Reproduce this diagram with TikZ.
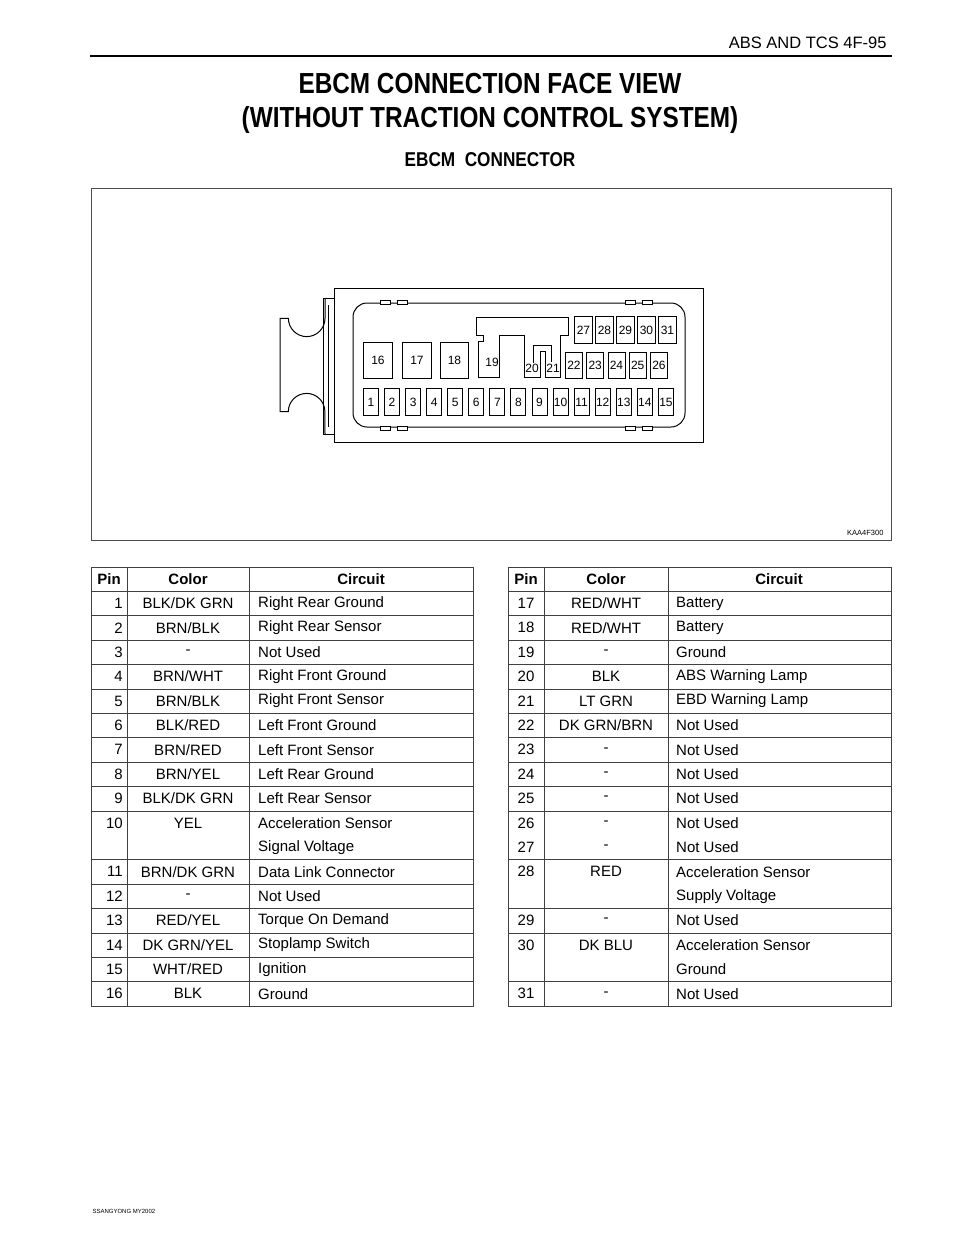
\documentclass[tikz,border=0pt]{standalone}
\usepackage{fontspec}
\setmainfont{Liberation Sans}
\begin{document}
\begin{tikzpicture}[x=1pt,y=-1pt,line join=miter,
  pin/.style={draw,line width=0.9pt,inner sep=0pt,anchor=north west,font=\fontsize{12}{12}\selectfont},
  cell/.style={font=\fontsize{15}{15}\selectfont,inner sep=0pt},
  grid/.style={draw=black!75,line width=0.8pt}]
\useasboundingbox (0,0) rectangle (960,1242);
% header
\node[anchor=base east,font=\fontsize{16.5}{16}\selectfont] (hdr) at (890,48) {ABS AND TCS 4F-95};
\draw[line width=2.5pt] (90,56) -- (892,56);
\node[font=\bfseries\fontsize{29}{29}\selectfont,xscale=0.84] (t1) at (490,84) {EBCM CONNECTION FACE VIEW};
\node[font=\bfseries\fontsize{29}{29}\selectfont,xscale=0.84] (t2) at (490,120) {(WITHOUT TRACTION CONTROL SYSTEM)};
\node[font=\bfseries\fontsize{20}{20}\selectfont,xscale=0.86] (t3) at (490,160) {EBCM\ \ CONNECTOR};
% figure frame
\draw[draw=black!70,line width=0.8pt] (91,188) rectangle (891,540);
\node[anchor=east,font=\fontsize{7.5}{8}\selectfont] (code) at (887,533) {KAA4F300};
% connector
\begin{scope}[line width=1pt]
\draw (334,288) rectangle (703,442);
\draw (323,298) rectangle (334,434);
\draw (328,305) -- (328,427);
\draw[rounded corners=14pt] (353,303) rectangle (685,427);
\draw (325,298) -- (325,318.3) arc[start angle=0,end angle=180,radius=18.3] -- (280,318.3) -- (280,411.7) -- (288.3,411.7) arc[start angle=180,end angle=360,radius=18.3] -- (325,434);
% notches
\foreach \xa in {380,625}{\draw[fill=white] (\xa,300) rectangle ++(10,4); \draw[fill=white] (\xa+17,300) rectangle ++(10,4);
 \draw[fill=white] (\xa,426) rectangle ++(10,4); \draw[fill=white] (\xa+17,426) rectangle ++(10,4);}
% 19/20/21 shape
\draw (476.7,317.3) -- (568.3,317.3) -- (568.3,335) -- (560.7,335) -- (560.7,377.7) -- (545,377.7) -- (545,351.7) -- (540.7,351.7) -- (540.7,377.7) -- (524,377.7) -- (524,335) -- (499.3,335) -- (499.3,377.7) -- (478.3,377.7) -- (478.3,341.7) -- (483,341.7) -- (483,335) -- (476.7,335) -- cycle;
\draw (533.3,363) -- (533.3,345) -- (551.7,345) -- (551.7,361.7);
\end{scope}
\node[font=\fontsize{12}{12}\selectfont] (p19) at (492,362) {19};
\node[font=\fontsize{12}{12}\selectfont] (p20) at (532,368) {20};
\node[font=\fontsize{12}{12}\selectfont] (p21) at (553,368) {21};
\node[pin,minimum width=29pt,minimum height=36pt] (p16) at (363,342) {16};
\node[pin,minimum width=29pt,minimum height=36pt] (p17) at (402,342) {17};
\node[pin,minimum width=28pt,minimum height=36pt] (p18) at (440,342) {18};
\foreach \i in {1,...,15}{
  \node[pin,minimum width=15pt,minimum height=27pt] (q\i) at ({363+21.07*(\i-1)},388) {\i};}
\foreach \i [count=\k from 0] in {22,...,26}{
  \node[pin,minimum width=17pt,minimum height=26pt] (q\i) at ({565+21.25*\k},352) {\i};}
\foreach \i [count=\k from 0] in {27,...,31}{
  \node[pin,minimum width=18pt,minimum height=27pt] (q\i) at ({574+21*\k},316) {\i};}
% tables
\def\rh{24.4}
% left
\draw[grid] (91,567) rectangle (473,{567+18*\rh});
\draw[grid] (127,567) -- (127,{567+18*\rh});
\draw[grid] (249,567) -- (249,{567+18*\rh});
\foreach \k in {1,...,10,12,13,14,15,16,17}{\draw[grid] (91,{567+\k*\rh}) -- (473,{567+\k*\rh});}
% right
\draw[grid] (508,567) rectangle (891,{567+18*\rh});
\draw[grid] (544,567) -- (544,{567+18*\rh});
\draw[grid] (668,567) -- (668,{567+18*\rh});
\foreach \k in {1,...,10,12,14,15,17}{\draw[grid] (508,{567+\k*\rh}) -- (891,{567+\k*\rh});}
% headers
\node[cell,font=\bfseries\fontsize{15}{15}\selectfont] (lh1) at (109,579) {Pin};
\node[cell,font=\bfseries\fontsize{15}{15}\selectfont] (lh2) at (188,579) {Color};
\node[cell,font=\bfseries\fontsize{15}{15}\selectfont] (lh3) at (361,579) {Circuit};
\node[cell,font=\bfseries\fontsize{15}{15}\selectfont] (rh1) at (526,579) {Pin};
\node[cell,font=\bfseries\fontsize{15}{15}\selectfont] (rh2) at (606,579) {Color};
\node[cell,font=\bfseries\fontsize{15}{15}\selectfont] (rh3) at (779,579) {Circuit};
\foreach \p/\c/\t [count=\r] in {1/BLK\slash DK GRN/Right Rear Ground,2/BRN\slash BLK/Right Rear Sensor,3/-/Not Used,4/BRN\slash WHT/Right Front Ground,5/BRN\slash BLK/Right Front Sensor,6/BLK\slash RED/Left Front Ground,7/BRN\slash RED/Left Front Sensor,8/BRN\slash YEL/Left Rear Ground,9/BLK\slash DK GRN/Left Rear Sensor,10/YEL/Acceleration Sensor,{}/{}/Signal Voltage,11/BRN\slash DK GRN/Data Link Connector,12/-/Not Used,13/RED\slash YEL/Torque On Demand,14/DK GRN\slash YEL/Stoplamp Switch,15/WHT\slash RED/Ignition,16/BLK/Ground}{
  \node[cell,anchor=east] (la\r) at (123,{579+\r*\rh}) {\p};
  \node[cell] (lb\r) at (188,{579+\r*\rh}) {\c};
  \node[cell,anchor=west] (lc\r) at (258,{579+\r*\rh}) {\t};}
\foreach \p/\c/\t [count=\r] in {17/RED\slash WHT/Battery,18/RED\slash WHT/Battery,19/-/Ground,20/BLK/ABS Warning Lamp,21/LT GRN/EBD Warning Lamp,22/DK GRN\slash BRN/Not Used,23/-/Not Used,24/-/Not Used,25/-/Not Used,26/-/Not Used,27/-/Not Used,28/RED/Acceleration Sensor,{}/{}/Supply Voltage,29/-/Not Used,30/DK BLU/Acceleration Sensor,{}/{}/Ground,31/-/Not Used}{
  \node[cell] (ra\r) at (526,{579+\r*\rh}) {\p};
  \node[cell] (rb\r) at (606,{579+\r*\rh}) {\c};
  \node[cell,anchor=west] (rc\r) at (676,{579+\r*\rh}) {\t};}
\node[anchor=west,font=\fontsize{6}{6}\selectfont] (foot) at (89,1211) {SSANGYONG MY2002};
\end{tikzpicture}
\end{document}
